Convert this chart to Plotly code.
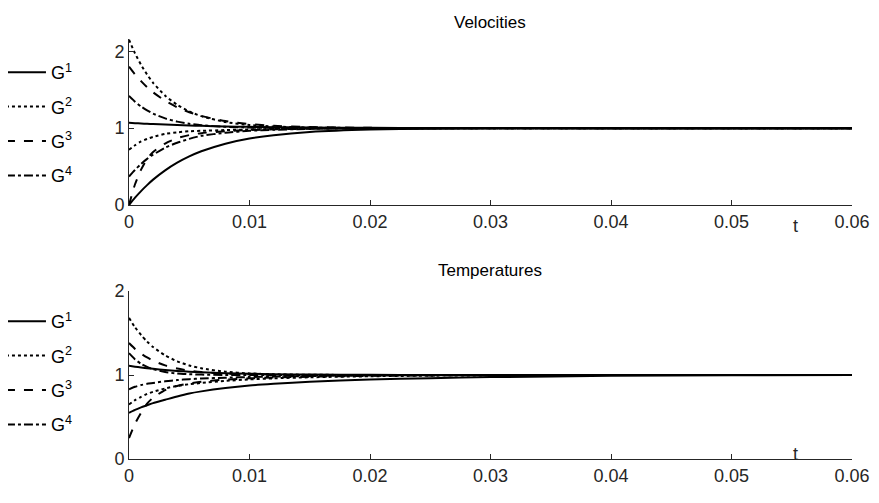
import plotly.graph_objects as go

# time grid
t = [0, 0.0005, 0.001, 0.0015, 0.002, 0.003, 0.004, 0.005, 0.006, 0.008,
     0.01, 0.012, 0.015, 0.02, 0.025, 0.03, 0.04, 0.05, 0.06]

# Velocities
vel_G1_a = [1.07, 1.065, 1.061, 1.056, 1.053, 1.046, 1.040, 1.034, 1.030, 1.022,
            1.017, 1.013, 1.008, 1.004, 1.002, 1.001, 1.0, 1.0, 1.0]
vel_G1_b = [0.0, 0.095, 0.181, 0.259, 0.330, 0.451, 0.551, 0.632, 0.699, 0.798,
            0.865, 0.909, 0.950, 0.982, 0.993, 0.998, 1.0, 1.0, 1.0]
vel_G2_a = [2.15, 1.973, 1.824, 1.698, 1.590, 1.423, 1.303, 1.217, 1.156, 1.080,
            1.041, 1.021, 1.008, 1.001, 1.0, 1.0, 1.0, 1.0, 1.0]
vel_G2_b = [0.72, 0.777, 0.827, 0.859, 0.886, 0.925, 0.945, 0.96, 0.965, 0.975,
            0.983, 0.99, 0.995, 0.999, 1.0, 1.0, 1.0, 1.0, 1.0]
vel_G3_a = [1.80, 1.699, 1.611, 1.533, 1.466, 1.356, 1.271, 1.207, 1.158, 1.092,
            1.054, 1.031, 1.014, 1.004, 1.001, 1.0, 1.0, 1.0, 1.0]
vel_G3_b = [0.0, 0.27, 0.46, 0.60, 0.69, 0.80, 0.87, 0.91, 0.935, 0.96,
            0.975, 0.985, 0.993, 0.998, 1.0, 1.0, 1.0, 1.0, 1.0]
vel_G4_a = [1.42, 1.344, 1.281, 1.231, 1.189, 1.127, 1.085, 1.057, 1.038, 1.017,
            1.008, 1.003, 1.001, 1.0, 1.0, 1.0, 1.0, 1.0, 1.0]
vel_G4_b = [0.37, 0.458, 0.534, 0.60, 0.654, 0.746, 0.81, 0.86, 0.90, 0.94,
            0.965, 0.978, 0.99, 0.997, 1.0, 1.0, 1.0, 1.0, 1.0]

# Temperatures
tem_G1_a = [1.11, 1.0995, 1.09, 1.081, 1.074, 1.06, 1.049, 1.04, 1.033, 1.022,
            1.015, 1.01, 1.005, 1.002, 1.001, 1.0, 1.0, 1.0, 1.0]
tem_G1_b = [0.55, 0.585, 0.615, 0.64, 0.665, 0.705, 0.745, 0.78, 0.805, 0.845,
            0.875, 0.895, 0.92, 0.945, 0.962, 0.975, 0.99, 0.996, 0.999]
tem_G2_a = [1.68, 1.568, 1.476, 1.398, 1.333, 1.233, 1.163, 1.114, 1.08, 1.039,
            1.019, 1.009, 1.003, 1.0, 1.0, 1.0, 1.0, 1.0, 1.0]
tem_G2_b = [0.65, 0.70, 0.74, 0.775, 0.80, 0.84, 0.87, 0.89, 0.905, 0.93,
            0.948, 0.96, 0.973, 0.985, 0.992, 0.996, 1.0, 1.0, 1.0]
tem_G3_a = [1.38, 1.311, 1.255, 1.209, 1.171, 1.114, 1.077, 1.051, 1.035, 1.016,
            1.007, 1.003, 1.0, 1.0, 1.0, 1.0, 1.0, 1.0, 1.0]
tem_G3_b = [0.25, 0.42, 0.55, 0.66, 0.73, 0.82, 0.87, 0.90, 0.92, 0.945,
            0.96, 0.97, 0.98, 0.99, 0.995, 1.0, 1.0, 1.0, 1.0]
tem_G4_a = [1.26, 1.186, 1.133, 1.096, 1.069, 1.035, 1.018, 1.009, 1.005, 1.001,
            1.0, 1.0, 1.0, 1.0, 1.0, 1.0, 1.0, 1.0, 1.0]
tem_G4_b = [0.83, 0.86, 0.88, 0.895, 0.905, 0.925, 0.94, 0.95, 0.958, 0.968,
            0.976, 0.982, 0.988, 0.994, 0.997, 1.0, 1.0, 1.0, 1.0]

names = ["G<sup>1</sup>", "G<sup>2</sup>", "G<sup>3</sup>", "G<sup>4</sup>"]
dashes = ["solid", "dot", "dash", "dashdot"]
vel = [(vel_G1_a, vel_G1_b), (vel_G2_a, vel_G2_b), (vel_G3_a, vel_G3_b), (vel_G4_a, vel_G4_b)]
tem = [(tem_G1_a, tem_G1_b), (tem_G2_a, tem_G2_b), (tem_G3_a, tem_G3_b), (tem_G4_a, tem_G4_b)]

FONT = "Liberation Sans, Arial, Helvetica, sans-serif"

fig = go.Figure()
for i in range(4):
    for j, ys in enumerate(vel[i]):
        fig.add_trace(go.Scatter(x=t, y=ys, mode="lines", line=dict(color="black", width=2, dash=dashes[i], shape="spline", smoothing=0.6),
                                 name=names[i], showlegend=(j == 0), legendgroup="v%d" % i, legend="legend",
                                 xaxis="x", yaxis="y"))
for i in range(4):
    for j, ys in enumerate(tem[i]):
        fig.add_trace(go.Scatter(x=t, y=ys, mode="lines", line=dict(color="black", width=2, dash=dashes[i], shape="spline", smoothing=0.6),
                                 name=names[i], showlegend=(j == 0), legendgroup="t%d" % i, legend="legend2",
                                 xaxis="x2", yaxis="y2"))

W, H = 879, 503
OFF = 8  # page body margin offset


def px_x(v):
    return (v - OFF) / W


def px_y(v):
    return 1 - (v - OFF) / H


xd = [px_x(129), px_x(852)]
axcol = "#262626"
common_x = dict(range=[0, 0.06], tickvals=[0, 0.01, 0.02, 0.03, 0.04, 0.05, 0.06],
                ticktext=["0", "0.01", "0.02", "0.03", "0.04", "0.05", "0.06"],
                showline=True, linecolor=axcol, linewidth=1, ticks="inside", ticklen=5,
                tickcolor=axcol, showgrid=False, zeroline=False, domain=xd, automargin=False,
                tickfont=dict(size=18, color=axcol, family=FONT))
common_y = dict(showline=True, linecolor=axcol, linewidth=1, ticks="inside", ticklen=5,
                tickcolor=axcol, showgrid=False, zeroline=False, tickvals=[0, 1, 2], automargin=False,
                tickfont=dict(size=18, color=axcol, family=FONT))

legend_style = dict(font=dict(size=18, color="black", family=FONT),
                    bgcolor="rgba(0,0,0,0)", borderwidth=0, traceorder="grouped",
                    tracegroupgap=8, xanchor="left", yanchor="top", itemwidth=40)

fig.update_layout(
    width=W, height=H,
    margin=dict(l=0, r=0, t=0, b=0, autoexpand=False),
    paper_bgcolor="white", plot_bgcolor="white",
    font=dict(family=FONT, size=16, color=axcol),
    xaxis=dict(**common_x, anchor="y"),
    yaxis=dict(**common_y, range=[0, 2.16], domain=[px_y(205), px_y(39)], anchor="x"),
    xaxis2=dict(**common_x, anchor="y2"),
    yaxis2=dict(**common_y, range=[0, 2], domain=[px_y(459), px_y(291)], anchor="x2"),
    legend=dict(**legend_style, x=-0.008, y=px_y(54)),
    legend2=dict(**legend_style, x=-0.008, y=px_y(303)),
    annotations=[
        dict(text="Velocities", x=px_x(490), y=px_y(22), xref="paper", yref="paper",
             xanchor="center", yanchor="middle",
             showarrow=False, font=dict(size=17, color="black", family=FONT)),
        dict(text="Temperatures", x=px_x(490), y=px_y(270), xref="paper", yref="paper",
             xanchor="center", yanchor="middle",
             showarrow=False, font=dict(size=17, color="black", family=FONT)),
        dict(text="t", x=px_x(795), y=px_y(226), xref="paper", yref="paper",
             xanchor="center", yanchor="middle",
             showarrow=False, font=dict(size=18, color=axcol, family=FONT)),
        dict(text="t", x=px_x(795), y=px_y(454), xref="paper", yref="paper",
             xanchor="center", yanchor="middle",
             showarrow=False, font=dict(size=18, color=axcol, family=FONT)),
    ],
)

fig.write_html("out.html")
